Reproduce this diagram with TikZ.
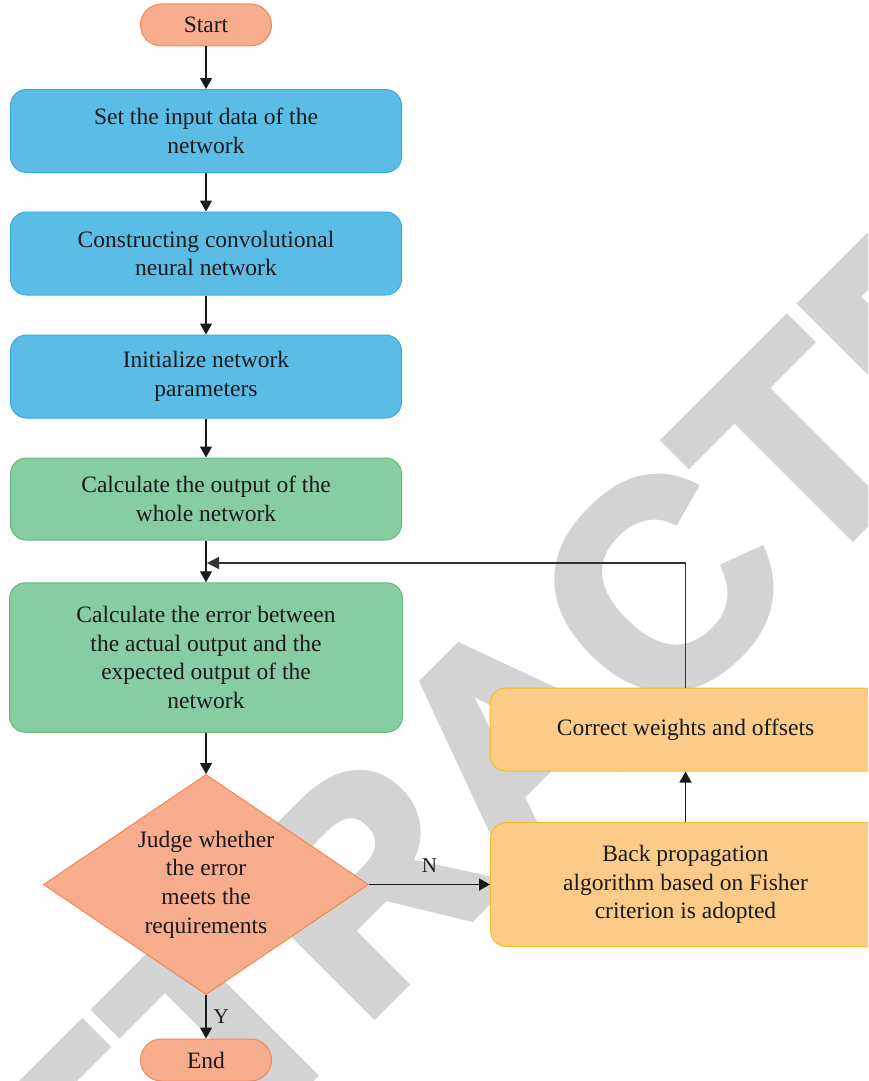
\documentclass[tikz,border=0pt]{standalone}
\usepackage{fontspec}
\setmainfont{Liberation Serif}
\newfontfamily\wmfont{Liberation Sans}[BoldFeatures={FakeBold=3}]
\usetikzlibrary{shapes.geometric,arrows.meta}
\definecolor{salmonF}{HTML}{F7AC8E}
\definecolor{salmonD}{HTML}{F08850}
\definecolor{blueF}{HTML}{5BBDE6}
\definecolor{blueD}{HTML}{35ABDF}
\definecolor{greenF}{HTML}{88CCA1}
\definecolor{greenD}{HTML}{5DBB7C}
\definecolor{orangeF}{HTML}{FBCB8A}
\definecolor{orangeD}{HTML}{F8BC1E}
\definecolor{wmgray}{HTML}{D3D3D3}
\definecolor{txt}{HTML}{1A1A1A}
\definecolor{linec}{HTML}{1A1A1A}
\begin{document}
\begin{tikzpicture}[x=1pt,y=-1pt,
  every node/.style={text=txt},
  basebox/.style={draw, line width=1pt, rounded corners=16pt, align=center, inner sep=0pt,
    font=\fontsize{23.5}{28.7}\selectfont},
  bluebox/.style={basebox, fill=blueF, draw=blueD},
  greenbox/.style={basebox, fill=greenF, draw=greenD},
  orangebox/.style={basebox, fill=orangeF, draw=orangeD},
  terminal/.style={basebox, fill=salmonF, draw=salmonD, rounded corners=21pt,
    minimum width=131pt, minimum height=42pt},
  decision/.style={diamond, draw=salmonD, fill=salmonF, line width=1pt, align=center,
    inner sep=0pt, shape aspect=1.48, minimum width=325pt, minimum height=220pt,
    font=\fontsize{23.5}{28.7}\selectfont},
  arr/.style={draw=linec, line width=1.3pt, -{Triangle[length=11pt,width=12pt]}},
  fbline/.style={draw=black!80, line width=1.3pt},
  lbl/.style={font=\fontsize{21}{24}\selectfont, inner sep=0pt},
  wm/.style={text=wmgray, inner sep=0pt, rotate=45, anchor=base west,
    font=\wmfont\bfseries\fontsize{290}{290}\selectfont}
]
\useasboundingbox (0,0) rectangle (868,1081);
\clip (0,0) rectangle (868,1081);
\fill[white] (0,0) rectangle (868,1081);
% watermark
\node[wm] (wmark) at (-49.5,1438) {RETRACTED};
% main column
\node[terminal] (start) at (206,25) {Start};
\node[bluebox, minimum width=391pt, minimum height=83pt] (b1) at (206,131) {Set the input data of the\\network};
\node[bluebox, minimum width=391pt, minimum height=83pt] (b2) at (206,253.5) {Constructing convolutional\\neural network};
\node[bluebox, minimum width=391pt, minimum height=83pt] (b3) at (206,376.5) {Initialize network\\parameters};
\node[greenbox, minimum width=391pt, minimum height=82pt] (b4) at (206,499) {Calculate the output of the\\whole network};
\node[greenbox, minimum width=393pt, minimum height=149.5pt] (b5) at (206,657.5) {Calculate the error between\\the actual output and the\\expected output of the\\network};
\node[decision] (judge) at (206,884.5) {Judge whether\\the error\\meets the\\requirements};
\node[terminal] (end) at (206,1060) {End};
% right column
\node[orangebox, minimum width=391pt, minimum height=83pt] (corr) at (685.5,729.5) {Correct weights and offsets};
\node[orangebox, minimum width=390pt, minimum height=124pt] (back) at (685.5,884.5) {Back propagation\\algorithm based on Fisher\\criterion is adopted};
% connectors
\draw[arr] (start) -- (b1);
\draw[arr] (b1) -- (b2);
\draw[arr] (b2) -- (b3);
\draw[arr] (b3) -- (b4);
\draw[arr] (b4) -- (b5);
\draw[arr] (b5) -- (judge);
\draw[arr] (judge) -- node[lbl, right=7pt] {Y} (end);
\draw[arr] (judge) -- node[lbl, above=11pt] {N} (back);
\draw[arr] (back) -- (corr);
\coordinate (join) at (207,563);
\draw[fbline, -{Triangle[length=12pt,width=12pt]}] (corr.north) |- (join);
\end{tikzpicture}
\end{document}
